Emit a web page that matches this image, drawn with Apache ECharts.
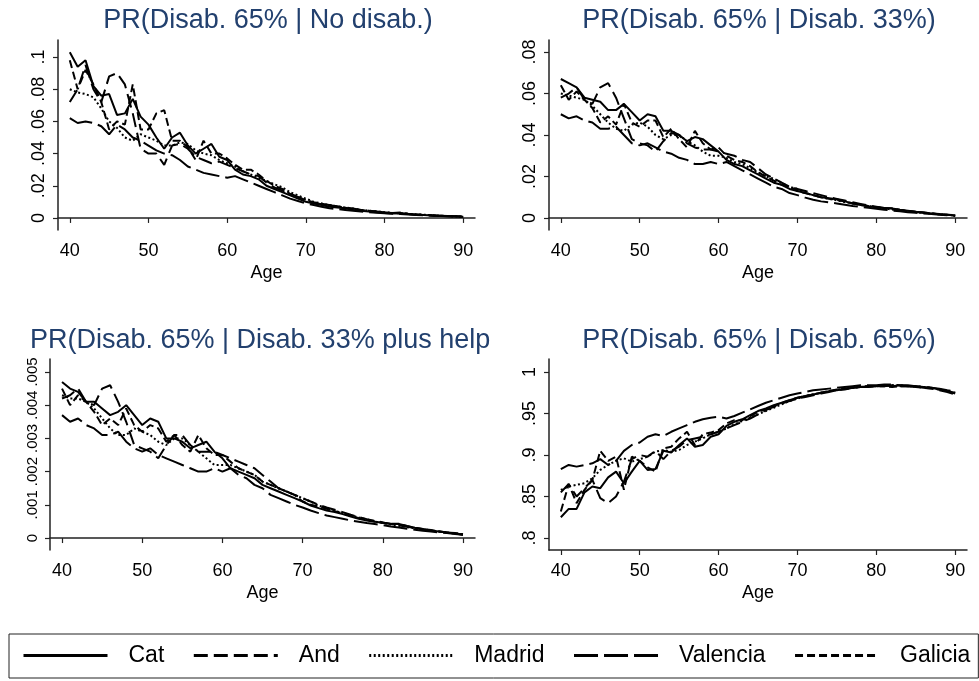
<!DOCTYPE html>
<html>
<head>
<meta charset="utf-8">
<script src="https://cdn.jsdelivr.net/npm/echarts@6/dist/echarts.min.js"></script>
<style>
  html, body { margin: 0; padding: 0; background: #fff; }
  #chart { width: 979px; height: 681px; }
</style>
</head>
<body>
<div id="chart"></div>
<script>
// ages on the x axis
var ages = [];
for (var a = 40; a <= 90; a++) ages.push(a);
var xTicks = [40, 50, 60, 70, 80, 90];
var seriesNames = ['Cat', 'And', 'Madrid', 'Valencia', 'Galicia'];
var titles = [
    'PR(Disab. 65% | No disab.)',
    'PR(Disab. 65% | Disab. 33%)',
    'PR(Disab. 65% | Disab. 33% plus help)',
    'PR(Disab. 65% | Disab. 65%)'
];

// y tick values per panel
var p1YTicks = [0, 0.02, 0.04, 0.06, 0.08, 0.1];
var p2YTicks = [0, 0.02, 0.04, 0.06, 0.08];
var p3YTicks = [0, 0.001, 0.002, 0.003, 0.004, 0.005];
var p4YTicks = [0.8, 0.85, 0.9, 0.95, 1];

// panel 1: PR(Disab. 65% | No disab.)
var p1Cat = [.103,.094,.098,.082,.076,.077,.064,.065,.074,.063,.058,
    .050,.043,.050,.053,.045,.040,.043,.046,.038,.036,
    .030,.027,.026,.024,.020,.018,.016,.014,.012,.010,
    .009,.008,.007,.0065,.006,.005,.0045,.004,.0035,.003,
    .0028,.003,.0025,.002,.0018,.0015,.0013,.0011,.0009,.0007];
var p1And = [.072,.080,.095,.080,.072,.088,.090,.083,.065,.043,.040,
    .040,.033,.045,.046,.043,.038,.036,.034,.035,.033,
    .031,.029,.027,.026,.022,.019,.017,.015,.013,.011,
    .0095,.0085,.008,.007,.0065,.0058,.005,.0045,.004,.0035,
    .003,.0028,.0025,.0022,.0019,.0016,.0014,.0012,.001,.0008];
var p1Madrid = [.080,.078,.077,.075,.068,.060,.056,.050,.048,.052,.050,
    .048,.045,.045,.047,.046,.042,.040,.039,.036,.034,
    .032,.029,.027,.025,.023,.021,.019,.016,.014,.012,
    .010,.009,.008,.0072,.0065,.0058,.005,.0045,.004,.0036,
    .0032,.0029,.0026,.0023,.002,.0017,.0014,.0012,.001,.0008];
var p1Valencia = [.062,.059,.060,.059,.057,.052,.058,.055,.050,.048,.045,
    .042,.040,.039,.036,.032,.030,.028,.027,.026,.025,
    .026,.024,.022,.020,.018,.016,.014,.012,.0105,.009,
    .008,.007,.006,.0055,.005,.0045,.004,.0036,.0032,.0029,
    .0026,.0024,.0021,.0019,.0016,.0014,.0012,.001,.0008,.0006];
var p1Galicia = [.098,.080,.092,.083,.072,.055,.060,.058,.083,.055,.055,
    .065,.067,.048,.048,.044,.036,.048,.040,.040,.037,
    .033,.030,.030,.027,.023,.020,.018,.015,.013,.011,
    .0098,.0088,.008,.0072,.0064,.0056,.005,.0044,.004,.0035,
    .0031,.0034,.0026,.0022,.0019,.0016,.0014,.0012,.001,.0008];

// panel 2: PR(Disab. 65% | Disab. 33%)
var p2Cat = [.067,.065,.063,.058,.057,.056,.052,.052,.055,.051,.047,
    .050,.049,.042,.042,.040,.037,.039,.038,.035,.032,
    .028,.026,.025,.023,.021,.019,.017,.016,.014,.013,
    .012,.011,.010,.0095,.009,.008,.007,.0063,.0057,.0052,
    .0048,.0046,.004,.0035,.003,.0026,.0022,.0018,.0015,.0012];
var p2And = [.058,.060,.063,.057,.055,.063,.065,.058,.048,.038,.036,
    .035,.032,.037,.041,.040,.036,.034,.033,.033,.032,
    .031,.030,.028,.027,.024,.021,.019,.017,.015,.014,
    .013,.012,.011,.010,.0092,.0084,.0076,.0068,.006,.0054,
    .0048,.0043,.0038,.0033,.0029,.0025,.0021,.0018,.0015,.0012];
var p2Madrid = [.060,.059,.058,.057,.054,.050,.046,.043,.042,.045,.046,
    .044,.040,.038,.040,.040,.037,.035,.032,.030,.030,
    .029,.027,.026,.024,.022,.020,.019,.017,.015,.014,
    .012,.011,.010,.0092,.0085,.0077,.007,.0063,.0057,.0051,
    .0046,.0041,.0036,.0032,.0028,.0024,.0021,.0018,.0015,.0012];
var p2Valencia = [.050,.048,.049,.047,.046,.043,.043,.044,.040,.036,.035,
    .036,.034,.032,.031,.029,.028,.026,.026,.027,.026,
    .027,.025,.023,.021,.019,.017,.015,.014,.012,.011,
    .0098,.0088,.008,.0075,.007,.0064,.0058,.0053,.0049,.0045,
    .004,.0036,.0032,.0028,.0025,.0022,.0019,.0016,.0013,.001];
var p2Galicia = [.064,.057,.061,.057,.053,.046,.049,.045,.055,.046,.044,
    .047,.047,.039,.043,.038,.034,.042,.036,.033,.034,
    .030,.028,.027,.025,.022,.020,.018,.016,.015,.013,
    .012,.011,.010,.0093,.0087,.0079,.0071,.0064,.0058,.0052,
    .0048,.0047,.0039,.0034,.003,.0026,.0022,.0019,.0016,.0013];

// panel 3: PR(Disab. 65% | Disab. 33% plus help)
var p3Cat = [.0047,.0045,.0044,.0041,.0041,.0039,.0037,.0038,.0040,.0037,.0034,
    .0036,.0035,.0030,.0030,.0029,.0027,.0028,.0029,.0026,.0024,
    .0021,.0020,.0019,.0018,.0016,.0015,.0014,.0013,.0012,.0011,
    .00098,.0009,.00083,.00078,.00072,.00065,.00058,.00053,.00049,.00046,
    .00043,.00042,.00036,.00031,.00027,.00023,.0002,.00017,.00014,.0001];
var p3And = [.0042,.0043,.0045,.0041,.0040,.0045,.0046,.0041,.0035,.0028,.0027,
    .0026,.0024,.0028,.0031,.0031,.0028,.0026,.0026,.0026,.0025,
    .0024,.0023,.0022,.0021,.0019,.0017,.0015,.0014,.0013,.0012,
    .0011,.001,.00092,.00085,.00078,.0007,.00063,.00057,.00052,.00047,
    .00042,.00038,.00034,.0003,.00026,.00023,.0002,.00017,.00014,.00011];
var p3Madrid = [.0043,.0042,.0042,.0041,.0039,.0036,.0033,.0031,.0031,.0033,.0032,
    .0031,.0029,.0028,.0030,.0030,.0028,.0026,.0024,.0022,.0022,
    .0022,.0021,.0020,.0019,.0017,.0016,.0015,.0014,.0013,.0012,
    .0011,.00098,.0009,.00082,.00075,.00068,.00062,.00056,.0005,.00045,
    .00041,.00037,.00033,.00029,.00026,.00023,.0002,.00017,.00014,.00011];
var p3Valencia = [.0037,.0035,.0036,.0034,.0033,.0031,.0031,.0032,.0029,.0027,.0026,
    .0027,.0025,.0024,.0023,.0022,.0021,.0020,.0020,.0021,.0020,
    .0021,.0019,.0018,.0016,.0015,.0013,.0012,.0011,.001,.00092,
    .00083,.00075,.00068,.00063,.00058,.00053,.00049,.00045,.00042,.00039,
    .00035,.00032,.00028,.00025,.00022,.0002,.00017,.00015,.00012,.0001];
var p3Galicia = [.0045,.0040,.0043,.0041,.0038,.0034,.0036,.0034,.0039,.0034,.0032,
    .0034,.0033,.0029,.0031,.0028,.0026,.0031,.0027,.0025,.0025,
    .0023,.0021,.0020,.0019,.0017,.0016,.0015,.0014,.0013,.0011,
    .001,.00095,.00088,.00081,.00074,.00067,.0006,.00055,.0005,.00046,
    .00043,.00043,.00036,.00031,.00027,.00024,.0002,.00017,.00015,.00012];

// panel 4: PR(Disab. 65% | Disab. 65%)
var p4Cat = [.825,.835,.835,.855,.862,.860,.873,.880,.866,.880,.893,
    .882,.883,.905,.903,.912,.920,.910,.912,.922,.925,
    .935,.940,.943,.948,.953,.956,.960,.963,.966,.969,
    .971,.973,.975,.977,.978,.980,.981,.982,.983,.983,
    .984,.983,.984,.983,.983,.982,.981,.979,.977,.974];
var p4And = [.855,.865,.850,.860,.870,.848,.842,.850,.868,.895,.900,
    .898,.905,.895,.905,.910,.918,.920,.922,.925,.928,
    .932,.936,.940,.944,.949,.954,.958,.962,.965,.968,
    .970,.972,.974,.976,.978,.979,.981,.982,.982,.983,
    .983,.984,.983,.983,.982,.981,.980,.978,.976,.973];
var p4Madrid = [.858,.862,.864,.866,.872,.882,.888,.893,.896,.892,.895,
    .898,.904,.906,.904,.906,.912,.916,.920,.925,.928,
    .932,.937,.941,.945,.949,.953,.957,.961,.965,.968,
    .971,.973,.975,.977,.978,.980,.981,.982,.983,.983,
    .984,.984,.984,.983,.983,.982,.981,.979,.977,.975];
var p4Valencia = [.883,.888,.886,.888,.890,.895,.888,.893,.905,.912,.915,
    .922,.925,.923,.928,.932,.936,.940,.943,.945,.946,
    .944,.947,.951,.955,.959,.963,.966,.969,.972,.974,
    .976,.978,.979,.980,.981,.982,.983,.984,.984,.984,
    .985,.985,.984,.984,.983,.982,.981,.980,.978,.977];
var p4Galicia = [.832,.865,.842,.858,.870,.905,.893,.898,.858,.898,.893,
    .885,.880,.908,.910,.920,.928,.912,.925,.927,.930,
    .938,.942,.942,.947,.952,.955,.959,.963,.966,.969,
    .971,.973,.975,.977,.979,.980,.981,.982,.983,.983,
    .983,.982,.983,.983,.982,.981,.980,.979,.977,.975];

var font = '"Liberation Sans", Arial, sans-serif';
var titleColor = '#22406e';
var dashTypes = ['solid', [14, 6], [2, 2.5], [24, 6], [8, 4]];

var panels = [
    { grid: { left: 58, top: 40, width: 417, height: 190 }, ymin: -0.0075, ymax: 0.1106, ticks: p1YTicks, ysize: 18,
      title: { text: titles[0], left: 268, top: 7, textAlign: 'center' },
      data: [p1Cat, p1And, p1Madrid, p1Valencia, p1Galicia] },
    { grid: { left: 549, top: 40, width: 418, height: 190 }, ymin: -0.0058, ymax: 0.0858, ticks: p2YTicks, ysize: 18,
      title: { text: titles[1], left: 759, top: 7, textAlign: 'center' },
      data: [p2Cat, p2And, p2Madrid, p2Valencia, p2Galicia] },
    { grid: { left: 50, top: 359, width: 425, height: 191 }, ymin: -0.00036, ymax: 0.00539, ticks: p3YTicks, ysize: 15,
      title: { text: titles[2], left: 30, top: 327, width: 463 },
      data: [p3Cat, p3And, p3Madrid, p3Valencia, p3Galicia] },
    { grid: { left: 549, top: 359, width: 418, height: 191 }, ymin: 0.7855, ymax: 1.0157, ticks: p4YTicks, ysize: 18,
      title: { text: titles[3], left: 759, top: 327, textAlign: 'center' },
      data: [p4Cat, p4And, p4Madrid, p4Valencia, p4Galicia] }
];

function stataLabel(v) {
    return String(+v.toFixed(4)).replace(/^0\./, '.');
}

var option = {
    animation: false,
    backgroundColor: '#fff',
    title: [],
    grid: [],
    xAxis: [],
    yAxis: [],
    series: [],
    legend: {
        data: seriesNames,
        left: 9,
        top: 634,
        orient: 'horizontal',
        itemWidth: 84,
        itemHeight: 14,
        itemGap: 28,
        padding: [10, 8, 11, 13],
        borderColor: '#222',
        borderWidth: 1,
        selectedMode: false,
        itemStyle: { color: '#000', opacity: 0, borderWidth: 0 },
        lineStyle: { color: '#000', width: 3 },
        textStyle: { fontFamily: font, fontSize: 23, color: '#000', padding: [0, 0, 0, 16] }
    }
};

panels.forEach(function (p, i) {
    var ts = { fontFamily: font, fontSize: 27, fontWeight: 'normal', color: titleColor };
    if (p.title.width) {
        ts.width = p.title.width;
        ts.overflow = 'truncate';
        ts.ellipsis = '';
    }
    option.title.push({
        text: p.title.text,
        left: p.title.left,
        top: p.title.top,
        textAlign: p.title.textAlign || 'left',
        padding: 0,
        textStyle: ts
    });
    option.grid.push(p.grid);
    option.xAxis.push({
        type: 'value',
        gridIndex: i,
        min: 38.5,
        max: 91.5,
        name: 'Age',
        nameLocation: 'middle',
        nameGap: 34,
        nameTextStyle: { fontFamily: font, fontSize: 18, color: '#000' },
        axisLine: { show: true, lineStyle: { color: '#222', width: 1.5 } },
        axisTick: { show: true, length: 5, customValues: xTicks, lineStyle: { color: '#222', width: 1.2 } },
        axisLabel: { customValues: xTicks, margin: 12, fontFamily: font, fontSize: 18, color: '#000' },
        splitLine: { show: false }
    });
    option.yAxis.push({
        type: 'value',
        gridIndex: i,
        min: p.ymin,
        max: p.ymax,
        axisLine: { show: true, lineStyle: { color: '#222', width: 1.5 } },
        axisTick: { show: true, length: 5, customValues: p.ticks, lineStyle: { color: '#222', width: 1.2 } },
        axisLabel: {
            customValues: p.ticks, rotate: 90, margin: 10,
            fontFamily: font, fontSize: p.ysize, color: '#000',
            formatter: stataLabel
        },
        splitLine: { show: false }
    });
    p.data.forEach(function (arr, k) {
        option.series.push({
            name: seriesNames[k],
            type: 'line',
            xAxisIndex: i,
            yAxisIndex: i,
            symbol: 'none',
            showSymbol: false,
            itemStyle: { color: '#000' },
            data: ages.map(function (age, j) { return [age, arr[j]]; }),
            lineStyle: { color: '#000', width: 2, type: dashTypes[k] }
        });
    });
});

var myChart = echarts.init(document.getElementById('chart'));
myChart.setOption(option);
</script>
</body>
</html>
